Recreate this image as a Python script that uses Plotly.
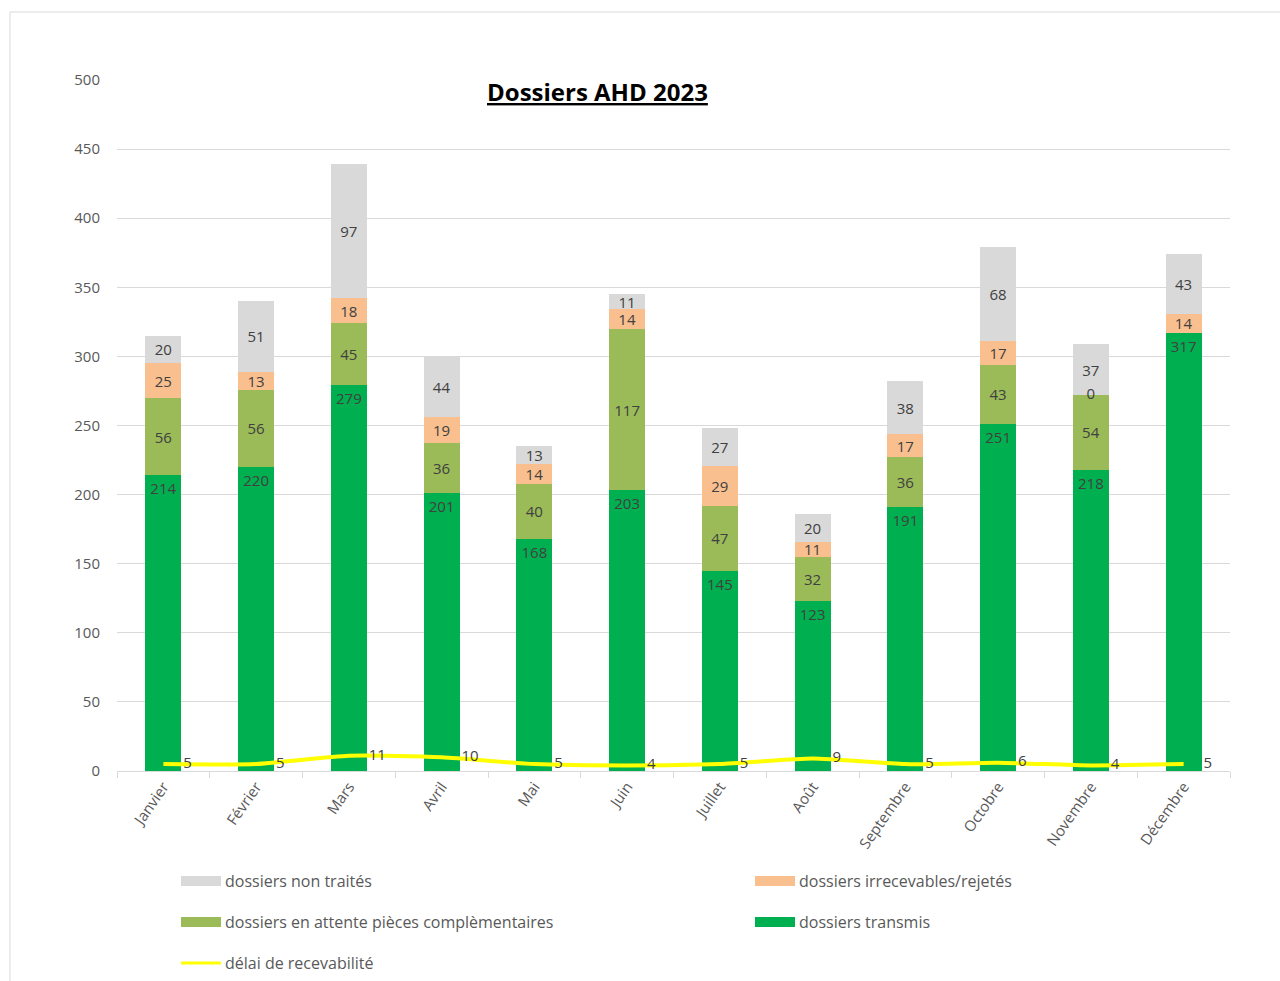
import plotly.graph_objects as go

# ---------------- data ----------------
months = ["Janvier", "Février", "Mars", "Avril", "Mai", "Juin", "Juillet",
          "Août", "Septembre", "Octobre", "Novembre", "Décembre"]
transmis = [214, 220, 279, 201, 168, 203, 145, 123, 191, 251, 218, 317]
attente = [56, 56, 45, 36, 40, 117, 47, 32, 36, 43, 54, None]
irrecevables = [25, 13, 18, 19, 14, 14, 29, 11, 17, 17, 0, 14]
non_traites = [20, 51, 97, 44, 13, 11, 27, 20, 38, 68, 37, 43]
delai = [5, 5, 11, 10, 5, 4, 5, 9, 5, 6, 4, 5]
y_ticks = [0, 50, 100, 150, 200, 250, 300, 350, 400, 450, 500]

series_names = ["dossiers transmis", "dossiers en attente pièces complèmentaires",
                "dossiers irrecevables/rejetés", "dossiers non traités"]
line_name = "délai de recevabilité"
title_text = "Dossiers AHD 2023"

# ---------------- style ----------------
FONT = "Open Sans, Liberation Sans, sans-serif"
TXT = "#404040"
AX = "#595959"
colors = ["#00B050", "#9BBB59", "#F9BF8F", "#D9D9D9"]
line_color = "#FFFF00"

fig = go.Figure()
stack_series = [transmis, attente, irrecevables, non_traites]
for i, (vals, name, col) in enumerate(zip(stack_series, series_names, colors)):
    fig.add_trace(go.Bar(
        x=months, y=vals, name=name, marker_color=col, marker_line_width=0,
        text=[("" if (v is None or v == 0) else str(v)) for v in vals],
        textposition="inside",
        insidetextanchor="end" if i == 0 else "middle",
        constraintext="none", textangle=0,
        textfont=dict(family=FONT, size=15, color=TXT),
        showlegend=False, hoverinfo="skip",
    ))

# labels for zero-height segments (drawn at the segment's base)
zx, zy, zt = [], [], []
for j, m in enumerate(months):
    base = 0
    for vals in stack_series:
        v = vals[j]
        if v == 0:
            zx.append(m); zy.append(base); zt.append("0")
        base += (v or 0)
fig.add_trace(go.Scatter(x=zx, y=zy, text=zt, mode="text",
                         textfont=dict(family=FONT, size=15, color=TXT),
                         showlegend=False, hoverinfo="skip", cliponaxis=False))

fig.add_trace(go.Scatter(
    x=months, y=delai, name=line_name, mode="lines+markers+text",
    line=dict(color=line_color, width=4, shape="spline", smoothing=0.6),
    marker=dict(size=30, color="rgba(0,0,0,0)"),
    text=[str(v) for v in delai], textposition="middle right",
    textfont=dict(family=FONT, size=15, color=TXT),
    showlegend=False, hoverinfo="skip", cliponaxis=False,
))

# ---------------- manual legend ----------------
L, R, T, B = 117, 50, 80, 210
W, H = 1280, 981
pw, ph = W - L - R, H - T - B
def px(x):
    return (x - L) / pw
def py(y):
    return (H - B - y) / ph

legend_items = [
    (series_names[3], colors[3], 181, 881, 10),
    (series_names[2], colors[2], 755, 881, 10),
    (series_names[1], colors[1], 181, 922, 10),
    (series_names[0], colors[0], 755, 922, 10),
    (line_name, line_color, 181, 963, 3),
]
shapes = []
annotations = []
for name, col, x0, yc, lw in legend_items:
    shapes.append(dict(type="line", xref="paper", yref="paper",
                       x0=px(x0), x1=px(x0 + 40), y0=py(yc), y1=py(yc),
                       line=dict(color=col, width=lw)))
    annotations.append(dict(xref="paper", yref="paper", x=px(x0 + 42), y=py(yc),
                            text=name, showarrow=False, xanchor="left", yanchor="middle",
                            font=dict(family=FONT, size=16, color=AX)))

# border of chart area
shapes.append(dict(type="rect", xref="paper", yref="paper",
                   x0=px(10), x1=px(1300), y0=py(1000), y1=py(12),
                   line=dict(color="#D9D9D9", width=1), fillcolor="rgba(0,0,0,0)",
                   layer="below"))

annotations.append(dict(xref="paper", yref="paper", x=px(597), y=py(92),
                        text="<b><u>" + title_text + "</u></b>", showarrow=False,
                        xanchor="center", yanchor="middle",
                        font=dict(family=FONT, size=24, color="#000000")))

fig.update_layout(
    width=W, height=H, margin=dict(l=L, r=R, t=T, b=B, pad=0),
    barmode="stack", bargap=0.61,
    paper_bgcolor="white", plot_bgcolor="white",
    font=dict(family=FONT, color=AX),
    shapes=shapes, annotations=annotations,
    xaxis=dict(
        showgrid=False, showline=True, linecolor="#D9D9D9", linewidth=1,
        ticks="outside", tickson="boundaries", ticklen=6, tickcolor="#D9D9D9",
        tickangle=-55, tickfont=dict(family=FONT, size=15, color=AX),
        range=[-0.5, 11.5], fixedrange=True,
    ),
    yaxis=dict(
        range=[0, 500], tickvals=y_ticks, showgrid=True, gridcolor="#D9D9D9",
        gridwidth=1, zeroline=False, showline=False,
        tickfont=dict(family=FONT, size=15, color=AX), ticklabelstandoff=16,
    ),
)

fig.write_html("out.html", config={"displayModeBar": False},
               post_script="document.body.style.margin='0';")
